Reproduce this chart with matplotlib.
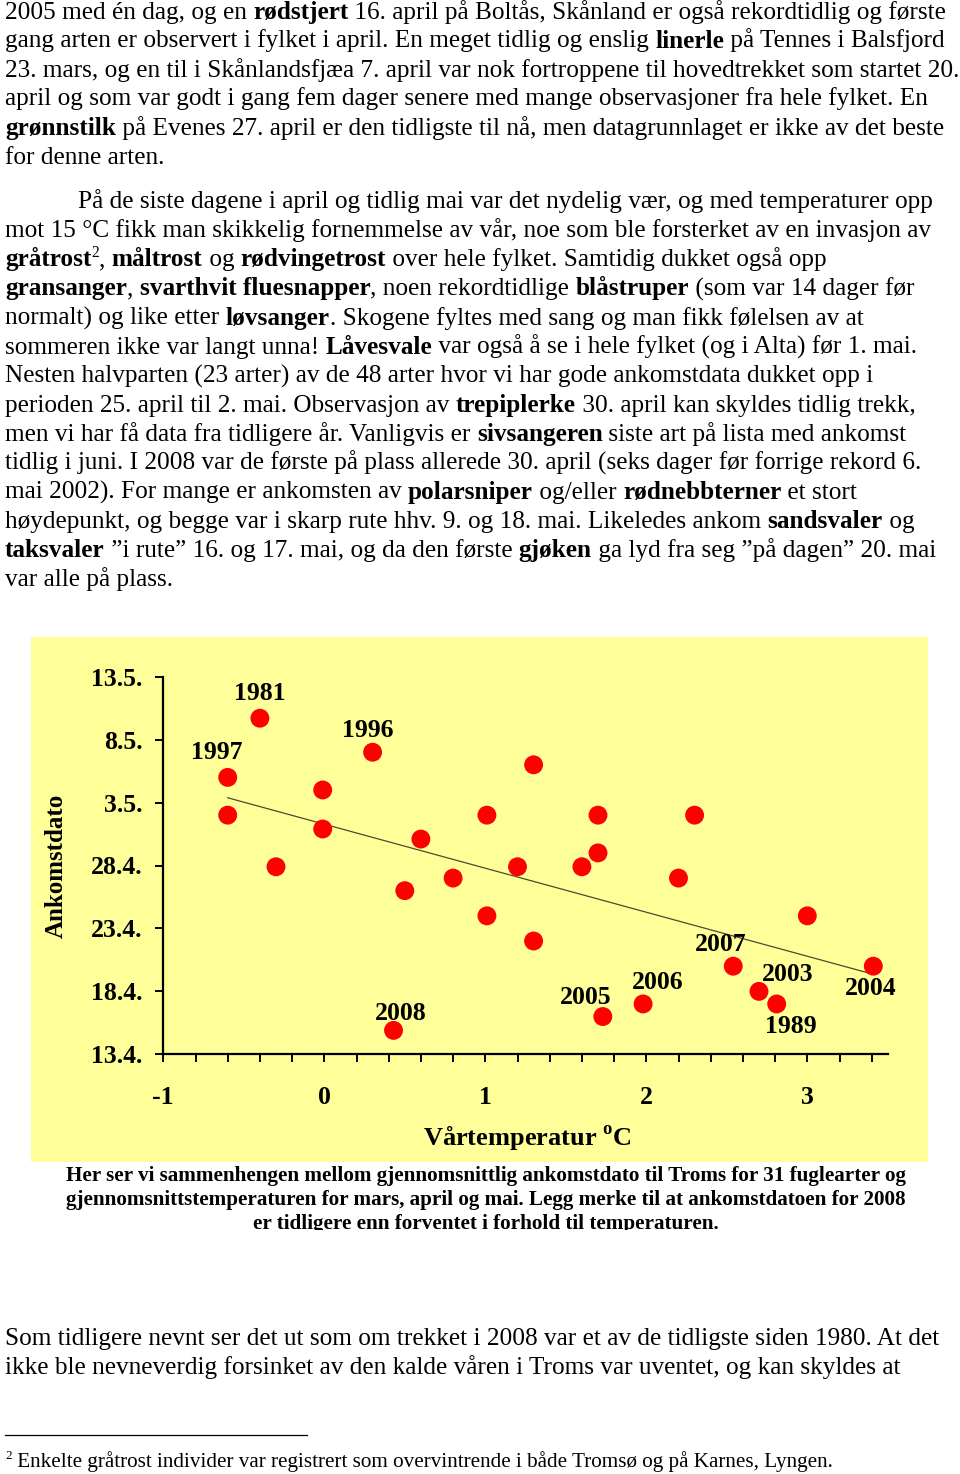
import re
import matplotlib
matplotlib.use('Agg')
import matplotlib.pyplot as plt
import matplotlib.transforms as mtransforms
from matplotlib.font_manager import FontProperties
from matplotlib.patches import Rectangle
from matplotlib.lines import Line2D
from matplotlib.ticker import FixedLocator, MultipleLocator
import numpy as np

W, H = 960, 1474
SERIF = 'Liberation Serif'
plt.rcParams['font.family'] = [SERIF, 'DejaVu Serif']
plt.rcParams['mathtext.fontset'] = 'custom'
plt.rcParams['mathtext.rm'] = SERIF
plt.rcParams['mathtext.bf'] = SERIF + ':bold'

# --- data (gjennomsnittlig ankomstdato, dager etter 31. mars) ---
temperatur = [-0.40, -0.60, 0.30, -0.01, -0.60, -0.01, -0.30, 0.60, 0.50, 0.80,
              1.01, 1.01, 1.30, 1.70, 2.30, 1.70, 1.20, 1.60, 2.20, 3.00,
              1.30, 2.54, 3.41, 2.70, 2.81, 1.98, 1.73, 0.43]
ankomst = [39.7, 35.0, 37.0, 34.0, 32.0, 30.9, 27.9, 30.1, 26.0, 27.0,
           32.0, 24.0, 36.0, 32.0, 32.0, 29.0, 27.9, 27.9, 27.0, 24.0,
           22.0, 20.0, 20.0, 18.0, 17.0, 17.0, 16.0, 14.9]
aar = ['1981', '1997', '1996', '', '', '', '', '', '', '',
       '', '', '', '', '', '', '', '', '', '',
       '', '2007', '2004', '2003', '1989', '2006', '2005', '2008']
y_ticks = [13, 18, 23, 28, 33, 38, 43]
y_tick_labels = ['13.4.', '18.4.', '23.4.', '28.4.', '3.5.', '8.5.', '13.5.']
x_ticks = [-1, 0, 1, 2, 3]

# label offsets in pixels (layout only)
label_offset = {'1981': (0, 25), '1997': (-11, 25), '1996': (-5, 22),
                '2008': (7, 17), '2005': (-17, 19), '2006': (15, 21),
                '2007': (-13, 22), '2003': (29, 17), '2004': (-3, -22),
                '1989': (14, -23)}

para1 = [
    "2005 med én dag, og en **rødstjert** 16. april på Boltås, Skånland er også rekordtidlig og første",
    "gang arten er observert i fylket i april. En meget tidlig og enslig **linerle** på Tennes i Balsfjord",
    "23. mars, og en til i Skånlandsfjæa 7. april var nok fortroppene til hovedtrekket som startet 20.",
    "april og som var godt i gang fem dager senere med mange observasjoner fra hele fylket. En",
    "**grønnstilk** på Evenes 27. april er den tidligste til nå, men datagrunnlaget er ikke av det beste",
    "for denne arten.",
]
para2 = [
    "På de siste dagene i april og tidlig mai var det nydelig vær, og med temperaturer opp",
    "mot 15 °C fikk man skikkelig fornemmelse av vår, noe som ble forsterket av en invasjon av",
    "**gråtrost**^2^, **måltrost** og **rødvingetrost** over hele fylket. Samtidig dukket også opp",
    "**gransanger**, **svarthvit fluesnapper**, noen rekordtidlige **blåstruper** (som var 14 dager før",
    "normalt) og like etter **løvsanger**. Skogene fyltes med sang og man fikk følelsen av at",
    "sommeren ikke var langt unna! **Låvesvale** var også å se i hele fylket (og i Alta) før 1. mai.",
    "Nesten halvparten (23 arter) av de 48 arter hvor vi har gode ankomstdata dukket opp i",
    "perioden 25. april til 2. mai. Observasjon av **trepiplerke** 30. april kan skyldes tidlig trekk,",
    "men vi har få data fra tidligere år. Vanligvis er **sivsangeren** siste art på lista med ankomst",
    "tidlig i juni. I 2008 var de første på plass allerede 30. april (seks dager før forrige rekord 6.",
    "mai 2002). For mange er ankomsten av **polarsniper** og/eller **rødnebbterner** et stort",
    "høydepunkt, og begge var i skarp rute hhv. 9. og 18. mai. Likeledes ankom **sandsvaler** og",
    "**taksvaler** ”i rute” 16. og 17. mai, og da den første **gjøken** ga lyd fra seg ”på dagen” 20. mai",
    "var alle på plass.",
]
caption = [
    "Her ser vi sammenhengen mellom gjennomsnittlig ankomstdato til Troms for 31 fuglearter og",
    "gjennomsnittstemperaturen for mars, april og mai. Legg merke til at ankomstdatoen for 2008",
    "er tidligere enn forventet i forhold til temperaturen.",
]
para3 = [
    "Som tidligere nevnt ser det ut som om trekket i 2008 var et av de tidligste siden 1980. At det",
    "ikke ble nevneverdig forsinket av den kalde våren i Troms var uventet, og kan skyldes at",
]
footnote = "^2^ Enkelte gråtrost individer var registrert som overvintrende i både Tromsø og på Karnes, Lyngen."

fig = plt.figure(figsize=(W / 100, H / 100), dpi=100)
fig.patch.set_facecolor('white')
renderer = fig.canvas.get_renderer()
px = mtransforms.IdentityTransform()


def width(s, fp):
    # measure with bars so that spaces count
    w1, _, _ = renderer.get_text_width_height_descent('|' + s + '|', fp, ismath=False)
    w0, _, _ = renderer.get_text_width_height_descent('||', fp, ismath=False)
    return w1 - w0


def segments(line):
    out = []
    for part in re.split(r'(\*\*.*?\*\*|\^.*?\^)', line):
        if not part:
            continue
        if part.startswith('**'):
            out.append((part[2:-2], 'b'))
        elif part.startswith('^'):
            out.append((part[1:-1], 's'))
        else:
            out.append((part, 'r'))
    return out


def props(style, size, bold_all=False):
    if style == 's':
        return FontProperties(family=SERIF, size=size * 0.62,
                              weight='bold' if bold_all else 'normal')
    bold = bold_all or style == 'b'
    return FontProperties(family=SERIF, size=size, weight='bold' if bold else 'normal')


def line_width(line, size, bold_all=False):
    return sum(width(t, props(st, size, bold_all)) for t, st in segments(line))


def draw_line(x, y, line, size, bold_all=False, clip=None):
    for t, st in segments(line):
        fp = props(st, size, bold_all)
        dy = size * 1.389 * 0.38 if st == 's' else 0
        txt = fig.text(x, H - y + dy, t, fontproperties=fp, transform=px,
                       ha='left', va='baseline', color='black')
        if clip is not None:
            txt.set_clip_box(clip)
            txt.set_clip_on(True)
        x += width(t, fp)


def fit_size(line, target, bold_all=False):
    return 10 * target / line_width(line, 10, bold_all)


# --- body text ---
s1 = fit_size(para1[0], 942)
for i, ln in enumerate(para1):
    draw_line(5, 18.5 + 29.0 * i, ln, s1)

s2 = fit_size(para2[1], 927)
for i, ln in enumerate(para2):
    draw_line(78 if i == 0 else 5, 208.3 + 29.05 * i, ln, s2)

s3 = fit_size(para3[0], 935)
for i, ln in enumerate(para3):
    draw_line(5, 1345 + 29.0 * i, ln, s3)

s4 = fit_size(footnote, 826)
draw_line(5, 1467, footnote, s4)
fig.add_artist(Line2D([5, 307], [H - 1435, H - 1435], transform=px, color='black', lw=0.9))

# --- chart background ---
fig.add_artist(Rectangle((31, H - 1162), 897, 1162 - 637, transform=px,
                         facecolor='#FFFF99', edgecolor='none', zorder=0))

# --- caption ---
sc = fit_size(caption[0], 845, bold_all=True)
clip_box = mtransforms.Bbox([[0, H - 1230], [W, H]])
for i, ln in enumerate(caption):
    w = line_width(ln, sc, bold_all=True)
    draw_line(485.5 - w / 2, 1181 + 24 * i, ln, sc, bold_all=True, clip=clip_box)

# --- scatter chart ---
left, right, bottom, top = 163.3, 887.8, 1054.3, 676.7
ax = fig.add_axes([left / W, (H - bottom) / H, (right - left) / W, (bottom - top) / H])
ax.set_facecolor('none')
ax.set_xlim(-1, 3.5)
ax.set_ylim(13, 43)
for sp in ('top', 'right'):
    ax.spines[sp].set_visible(False)
for sp in ('left', 'bottom'):
    ax.spines[sp].set_linewidth(1.6)

ax.scatter(temperatur, ankomst, s=185, color='#FF0000', zorder=3, clip_on=False,
           edgecolors='none')

coef = np.polyfit(temperatur, ankomst, 1)
xs = np.array([min(temperatur), max(temperatur)])
ax.plot(xs, np.polyval(coef, xs), color='#4a4a30', lw=0.9, zorder=2)

label_fp = FontProperties(family=SERIF, weight='bold', size=18.5)
for xv, yv, lab in zip(temperatur, ankomst, aar):
    if lab:
        dx, dy = label_offset[lab]
        ax.annotate(lab, (xv, yv), xytext=(dx, dy), textcoords='offset pixels',
                    ha='center', va='center', fontproperties=label_fp,
                    annotation_clip=False)

ax.yaxis.set_major_locator(FixedLocator(y_ticks))
ax.set_yticklabels(y_tick_labels)
ax.xaxis.set_major_locator(FixedLocator(x_ticks))
ax.xaxis.set_minor_locator(MultipleLocator(0.2))
ax.set_xticklabels([str(v) for v in x_ticks])
ax.tick_params(axis='y', direction='out', length=6, width=1.4, pad=9)
ax.tick_params(axis='x', which='both', direction='out', length=5.5, width=1.4, pad=17)
for lab in ax.get_xticklabels() + ax.get_yticklabels():
    lab.set_fontproperties(FontProperties(family=SERIF, weight='bold', size=18.5))

fig.text(56, H - 866, 'Ankomstdato', transform=px, rotation=90, ha='center', va='center',
         fontproperties=FontProperties(family=SERIF, weight='bold', size=18))
fig.text(527, H - 1138, r'Vårtemperatur $^{\mathbf{o}}$C', transform=px, ha='center',
         va='center', fontproperties=FontProperties(family=SERIF, weight='bold', size=19))

fig.savefig('out.png', dpi=100)
